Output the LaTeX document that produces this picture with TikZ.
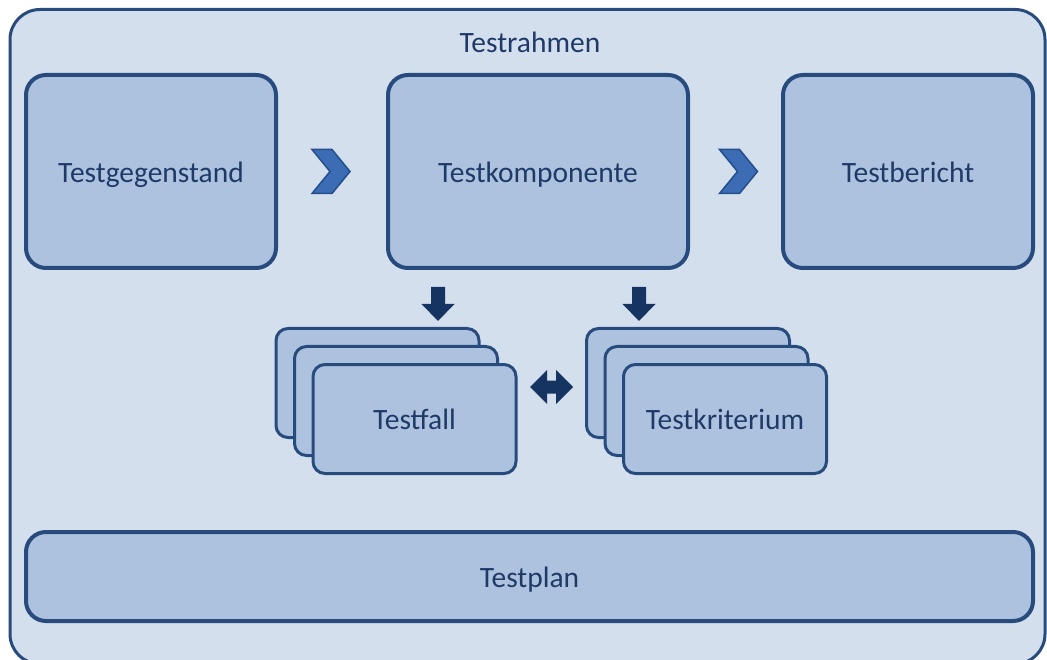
\documentclass[tikz,border=0pt]{standalone}
\usepackage{fontspec}
\setmainfont{Carlito}
\usepackage{xcolor}
\usetikzlibrary{calc}

\definecolor{frameFill}{RGB}{212,223,238}
\definecolor{boxFill}{RGB}{173,194,223}
\definecolor{lineBlue}{RGB}{40,75,125}
\definecolor{textBlue}{RGB}{32,58,104}
\definecolor{chevFill}{RGB}{60,108,180}
\definecolor{chevLine}{RGB}{36,78,140}
\definecolor{arrowBlue}{RGB}{22,52,98}

\tikzset{
  label text/.style={text=textBlue, text height=21.5pt, text depth=0pt},
  box/.style={draw=lineBlue, line width=4, fill=boxFill, rounded corners=20, label text},
  card/.style={draw=lineBlue, line width=3, fill=boxFill, rounded corners=12,
    minimum width=203, minimum height=109, label text},
  chevron/.style={fill=chevFill, draw=chevLine, line width=1.5, line join=miter},
  blockarrow/.style={fill=arrowBlue},
}

\begin{document}
\begin{tikzpicture}[x=1pt, y=-1pt, font=\fontsize{29.5}{34}\selectfont]
    \useasboundingbox (0,0) rectangle (1047,660);
    \clip (0,0) rectangle (1047,660);

    % Testrahmen
    \draw[line width=3, draw=lineBlue, fill=frameFill, rounded corners=30] (10,9.5) rectangle (1045,664);
    \node[label text] (rahmen) at (530,42) {Testrahmen};

    % Upper row
    \node[box, minimum width=250, minimum height=193] (gegenstand) at (151,171.5) {Testgegenstand};
    \node[box, minimum width=300, minimum height=193] (komponente) at (538,171.5) {Testkomponente};
    \node[box, minimum width=250, minimum height=193] (bericht) at (908,171.5) {Testbericht};

    % Chevrons between the boxes
    \foreach \a/\b/\dx in {gegenstand/komponente/0, komponente/bericht/4} {
        \begin{scope}[shift={($(\a.east)!0.5!(\b.west)+(\dx,0)$)}]
            \draw[chevron] (-20,-22) -- (0,-22) -- (18,0) -- (0,22) -- (-20,22) -- (-2,0) -- cycle;
        \end{scope}
    }

    % Down arrows
    \foreach \dx in {-100,101} {
        \begin{scope}[shift={($(komponente.south)+(\dx,17)$)}]
            \fill[blockarrow] (-7,0) -- (7,0) -- (7,17) -- (16.5,17) -- (0,34) -- (-16.5,17) -- (-7,17) -- cycle;
        \end{scope}
    }

    % Testfall stack
    \node[card] at (377.5,383) {};
    \node[card] at (396,401) {};
    \node[card] (fall) at (414.5,419) {Testfall};

    % Testkriterium stack
    \node[card] at (688,383) {};
    \node[card] at (706.5,401) {};
    \node[card] (kriterium) at (725,419) {Testkriterium};

    % Double arrow
    \coordinate (swap) at (551.5,387);
    \begin{scope}[shift={(swap)}]
        \fill[blockarrow] (-21.5,0) -- (-4.5,-17) -- (-4.5,-6.5) -- (4.5,-6.5) -- (4.5,-17) -- (21.5,0)
            -- (4.5,17) -- (4.5,6.5) -- (-4.5,6.5) -- (-4.5,17) -- cycle;
    \end{scope}

    % Testplan
    \node[box, minimum width=1007, minimum height=89] (plan) at (529.5,576.5) {Testplan};
\end{tikzpicture}
\end{document}
